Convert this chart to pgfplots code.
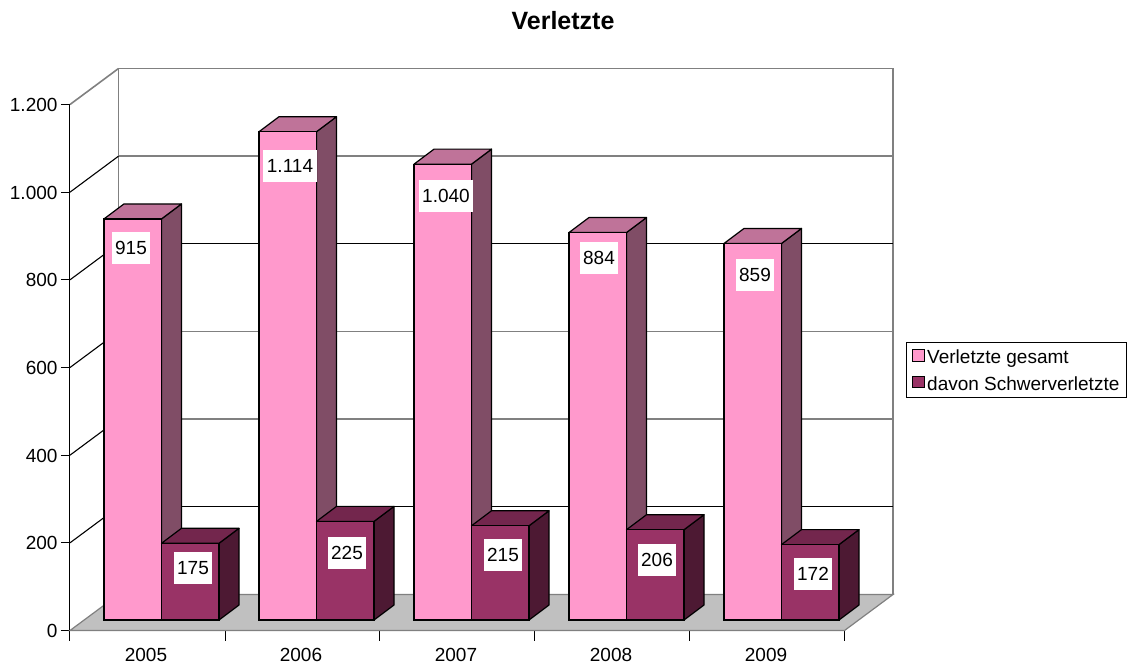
\documentclass[border=0pt]{standalone}
\usepackage{pgfplots}
\pgfplotsset{compat=1.18}
\usepackage{fontspec}
\setmainfont{Liberation Sans}
\newcommand\lab{\fontsize{19pt}{22pt}\selectfont}
\definecolor{lightF}{HTML}{FF99CC}
\definecolor{lightT}{HTML}{BF7399}
\definecolor{lightS}{HTML}{804D66}
\definecolor{darkF}{HTML}{993366}
\definecolor{darkT}{HTML}{73264D}
\definecolor{darkS}{HTML}{4D1933}
\definecolor{floorc}{HTML}{C0C0C0}
\definecolor{wall}{HTML}{808080}
% L, R, value, value+depth, side colour, top colour
\newcommand\threed[6]{%
  \addplot[forget plot,draw=black,line width=1.2pt,line join=round,fill=#5,yshift=10.5pt] coordinates {(#2,0) (#2+20,34.2) (#2+20,#4) (#2,#3)} -- cycle;
  \addplot[forget plot,draw=black,line width=1.2pt,line join=round,fill=#6,yshift=10.5pt] coordinates {(#1,#3) (#1+20,#4) (#2+20,#4) (#2,#3)} -- cycle;
}
\begin{document}
\begin{tikzpicture}
\begin{axis}[
  scale only axis, width=774.5pt, height=526pt,
  xmin=70, xmax=844.5, ymin=0, ymax=1200, clip=false,
  axis x line*=bottom, axis y line*=left,
  axis line style={black,line width=1pt},
  tick align=outside, major tick length=9pt,
  tick style={black,line width=1pt},
  ytick={0,200,400,600,800,1000,1200},
  xtick={146,301,456,611,766},
  xticklabels={2005,2006,2007,2008,2009},
  x tick style={draw=none},
  extra x ticks={70,225,379.5,534.5,689.5,844.5},
  extra x tick labels={},
  extra x tick style={x tick style={draw=black,line width=1pt},major tick length=10pt},
  /pgf/number format/.cd, 1000 sep={.}, assume math mode=true, /pgfplots/.cd,
  every tick label/.append style={font=\lab,text=black},
  xticklabel style={yshift=-5pt},
  yticklabel style={yshift=-0.5pt},
  title={\bfseries Verletzte},
  title style={at={(axis cs:563,1376.8)},anchor=center,yshift=0pt,font=\fontsize{25pt}{28pt}\selectfont},
  legend image code/.code={\path (0pt,0pt) (12pt,0pt);\draw[#1,solid,line width=1pt,overlay] (0pt,-14pt) rectangle (12pt,-2.5pt);},
  legend cell align=left,
  legend style={at={(axis cs:906,658.2)},anchor=north west,draw=black,line width=1pt,font=\lab,fill=white,
    inner xsep=5.5pt,inner ysep=4.25pt,row sep=5.5pt,
    /tikz/every odd column/.append style={column sep=0pt}},
]
\path (axis cs:0,-81) rectangle (axis cs:1132,1438.4);
% floor
\addplot[forget plot,fill=floorc,draw=wall,line width=1.2pt] coordinates {(70,0) (844.5,0) (893,82.1) (118.5,82.1)} -- cycle;
% walls and grid
\addplot[forget plot,draw=wall,line width=1.6pt] coordinates {(118.5,82.1) (118.5,1282.1) (893,1282.1) (893,82.1)};
\addplot[forget plot,draw=wall,line width=1.6pt] coordinates {(70,1200) (118.5,1282.1)};
\addplot[forget plot,draw=wall,line width=1.4pt] coordinates {(118.5,1082.1) (893,1082.1)};
\addplot[forget plot,draw=black,line width=1.1pt] coordinates {(118.5,882.1) (893,882.1)};
\addplot[forget plot,draw=wall,line width=1.4pt] coordinates {(118.5,682.1) (893,682.1)};
\addplot[forget plot,draw=wall,line width=1.4pt] coordinates {(118.5,482.1) (893,482.1)};
\addplot[forget plot,draw=black,line width=1.1pt] coordinates {(118.5,282.1) (893,282.1)};
\addplot[forget plot,draw=black,line width=1.1pt] coordinates {(70,1000) (118.5,1082.1)};
\addplot[forget plot,draw=black,line width=1.1pt] coordinates {(70,800) (118.5,882.1)};
\addplot[forget plot,draw=black,line width=1.1pt] coordinates {(70,600) (118.5,682.1)};
\addplot[forget plot,draw=black,line width=1.1pt] coordinates {(70,400) (118.5,482.1)};
\addplot[forget plot,draw=black,line width=1.1pt] coordinates {(70,200) (118.5,282.1)};
% Verletzte gesamt
\threed{104}{161.5}{915}{949.2}{lightS}{lightT}
\threed{259}{316.5}{1114}{1148.2}{lightS}{lightT}
\threed{414}{471.5}{1040}{1074.2}{lightS}{lightT}
\threed{569}{626.5}{884}{918.2}{lightS}{lightT}
\threed{724}{781.5}{859}{893.2}{lightS}{lightT}
\addplot[ybar,bar width=57.5pt,bar shift=0pt,yshift=10.5pt,draw=black,line width=1.2pt,fill=lightF]
  coordinates {(132.75,915) (287.75,1114) (442.75,1040) (597.75,884) (752.75,859)};
\addlegendentry{Verletzte gesamt}
% davon Schwerverletzte
\threed{161.5}{219}{175}{209.2}{darkS}{darkT}
\threed{316.5}{374}{225}{259.2}{darkS}{darkT}
\threed{471.5}{529}{215}{249.2}{darkS}{darkT}
\threed{626.5}{684}{206}{240.2}{darkS}{darkT}
\threed{781.5}{839}{172}{206.2}{darkS}{darkT}
\addplot[ybar,bar width=57.5pt,bar shift=0pt,yshift=10.5pt,draw=black,line width=1.2pt,fill=darkF]
  coordinates {(190.25,175) (345.25,225) (500.25,215) (655.25,206) (810.25,172)};
\addlegendentry{davon Schwerverletzte}
% data labels
\addplot[forget plot,only marks,mark=none,point meta=explicit symbolic,nodes near coords,
  nodes near coords align=center,
  every node near coord/.append style={fill=white,minimum height=32pt,inner xsep=3.5pt,inner ysep=0pt,anchor=center,font=\lab,text=black}]
  coordinates {(131,872.6)[915] (290,1059.7)[1.114] (446,991.2)[1.040] (599,849.8)[884] (755,811.0)[859]
   (193,142.6)[175] (347,176.8)[225] (503,172.2)[215] (657,160.8)[206] (813,128.9)[172]};
\end{axis}
\end{tikzpicture}
\end{document}
